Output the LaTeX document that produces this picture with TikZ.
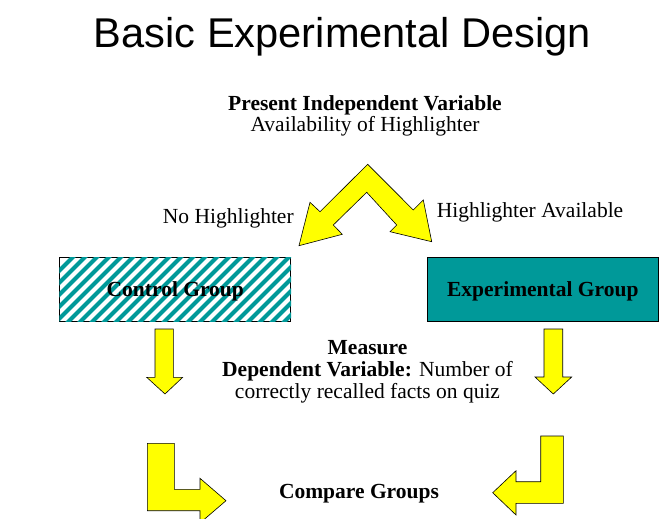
\documentclass[tikz,border=0pt]{standalone}
\usepackage{fontspec}
\setmainfont{Liberation Serif}
\newfontfamily\titlefont{Liberation Sans}
\definecolor{groupteal}{RGB}{0,153,153}
\definecolor{arrowyellow}{RGB}{255,255,0}
\begin{document}
\begin{tikzpicture}[x=1pt,y=-1pt,
	blockarrow/.style={draw=black,fill=arrowyellow,line width=0.6pt,line join=miter},
	groupbox/.style={draw=black,line width=0.8pt,minimum width=231pt,minimum height=64pt,inner sep=0pt,font=\bfseries\fontsize{21.5}{22}\selectfont},
	plaintext/.style={font=\fontsize{21.5}{21.7}\selectfont,align=center,inner sep=0pt}]
	\useasboundingbox (0,0) rectangle (665,519);
	
	\node[font=\titlefont\fontsize{41.6}{48}\selectfont,anchor=base,inner sep=0pt] (title) at (342.5,48) {Basic Experimental Design};
	\node[plaintext,anchor=base] (indep) at (365,131.7) {\textbf{Present Independent Variable}\\Availability of Highlighter};
	
	% split arrow
	\draw[blockarrow] (367.7,164.3) -- (413.3,210) -- (423.3,200) -- (431.7,241.7) -- (390,231.7) -- (396.7,225) -- (366.7,192.3) -- (333.3,225) -- (342.3,234.3) -- (299,245.7) -- (310,202.3) -- (320,211.7) -- cycle;
	\node[plaintext,anchor=base] (nohl) at (228.3,223.3) {No Highlighter};
	\node[plaintext,anchor=base] (hlav) at (530,217.7) {Highlighter Available};
	
	% groups
	\node[groupbox] (control) at (175.3,289.5) {};
	\begin{scope}
		\clip (control.south west) rectangle (control.north east);
		\foreach \x in {0,12,...,300}
			\draw[groupteal,line width=4pt] (\x,330) -- ++(80,-80);
	\end{scope}
	\node[groupbox,draw=none,anchor=base] (controltext) at (175.3,296.7) {Control Group};
	\node[groupbox,fill=groupteal] (exper) at (542.8,289.5) {};
	\node[groupbox,draw=none,anchor=base] (expertext) at (542.8,296.7) {Experimental Group};
	
	% down arrows
	\draw[blockarrow] (155,329) -- (173.3,329) -- (173.3,377.3) -- (182.7,377.3) -- (165,394) -- (146.7,377.3) -- (155,377.3) -- cycle;
	\draw[blockarrow] (544,329) -- (562.7,329) -- (562.7,377) -- (571.7,377) -- (553.3,394) -- (535,377) -- (544,377) -- cycle;
	\node[plaintext,anchor=base] (measure) at (367.5,398.3) {\textbf{Measure}\\\textbf{Dependent Variable:} Number of\\correctly recalled facts on quiz};
	
	% elbow arrows
	\draw[blockarrow] (147.3,443.3) -- (174.3,443.3) -- (174.3,489.3) -- (200,489.3) -- (200,478.3) -- (226,500.7) -- (200,523) -- (200,510.7) -- (147.3,510.7) -- cycle;
	\draw[blockarrow] (540.7,436) -- (563.3,436) -- (563.3,503.3) -- (516,503.3) -- (516,515) -- (492.7,492.7) -- (516,470.7) -- (516,481.7) -- (540.7,481.7) -- cycle;
	\node[plaintext,anchor=base,font=\bfseries\fontsize{21.5}{22}\selectfont] (compare) at (359,498.3) {Compare Groups};
\end{tikzpicture}
\end{document}
